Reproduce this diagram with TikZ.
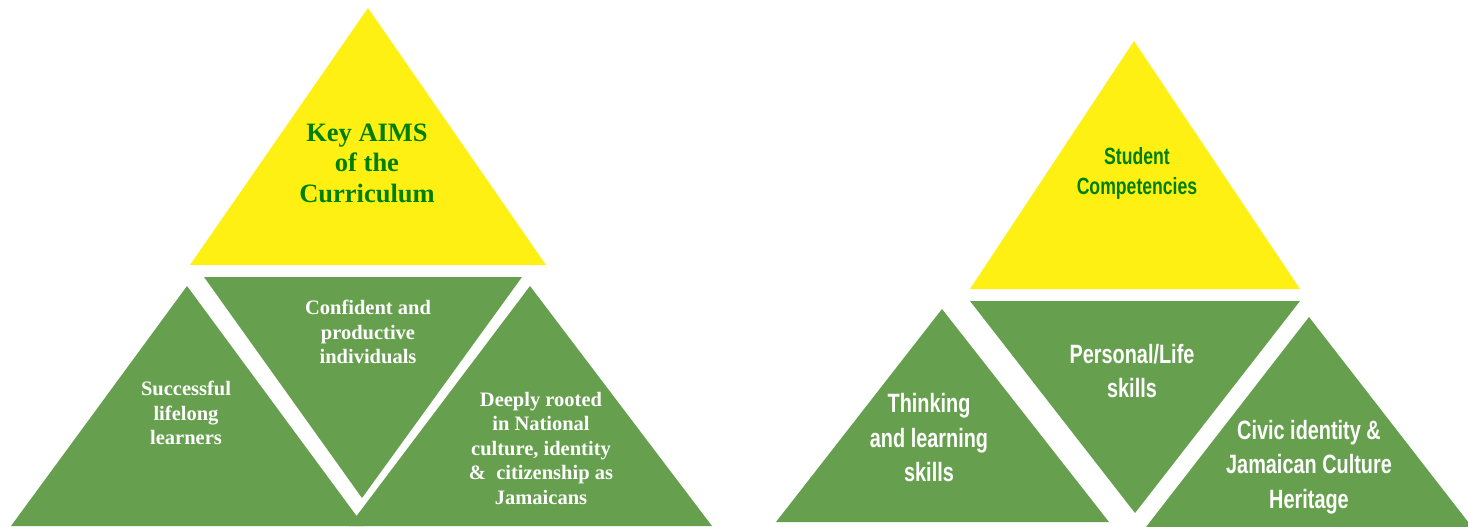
\documentclass[tikz,border=0pt]{standalone}
\usepackage{fontspec}
\setmainfont{Liberation Serif}
\newfontfamily\narrowsans[FakeStretch=0.75]{Liberation Sans}
\usepackage{tikz}

\definecolor{aimyellow}{RGB}{255,240,20}
\definecolor{aimgreen}{RGB}{102,160,79}
\definecolor{textgreen}{RGB}{0,128,0}

\tikzset{
  toptext/.style={align=center, text=textgreen, font=\bfseries\fontsize{26.5}{30.5}\selectfont},
  aimtext/.style={align=center, text=white, font=\bfseries\fontsize{20.5}{24.5}\selectfont},
  comptop/.style={align=center, text=textgreen, font=\narrowsans\bfseries\fontsize{23.5}{30}\selectfont},
  comptext/.style={align=center, text=white, font=\narrowsans\bfseries\fontsize{26.5}{34.5}\selectfont}
}

\begin{document}
\begin{tikzpicture}[x=1pt, y=-1pt]
  \useasboundingbox (0,0) rectangle (1468,527);

  % key aims of the curriculum
  \fill[aimyellow] (368,8) -- (190,265) -- (546,265) -- cycle;
  \fill[aimgreen] (204,277) -- (522,277) -- (362,498) -- cycle;
  \fill[aimgreen] (187,286) -- (11,526) -- (364,526) -- cycle;
  \fill[aimgreen] (530,286) -- (349,526) -- (712,526) -- cycle;

  \node[toptext] (aims) at (367,163) {Key AIMS\\of the\\Curriculum};
  \node[aimtext] (confident) at (368,332) {Confident and\\productive\\individuals};
  \node[aimtext] (lifelong) at (186,413) {Successful\\lifelong\\learners};
  \node[aimtext] (rooted) at (541,448) {Deeply rooted\\in National\\culture, identity\\\&~ citizenship as\\Jamaicans};

  % student competencies
  \fill[aimyellow] (1134,41) -- (970,289) -- (1300,289) -- cycle;
  \fill[aimgreen] (970,301) -- (1300,301) -- (1135,513) -- cycle;
  \fill[aimgreen] (942,309) -- (776,522) -- (1109,522) -- cycle;
  \fill[aimgreen] (1309,317) -- (1146,527) -- (1472,527) -- cycle;

  \node[comptop] (student) at (1137,173) {Student\\Competencies};
  \node[comptext] (personal) at (1132,371) {Personal/Life\\skills};
  \node[comptext] (thinking) at (929,438) {Thinking\\and learning\\skills};
  \node[comptext] (civic) at (1309,467) {Civic identity \&\\Jamaican Culture\\Heritage};
\end{tikzpicture}
\end{document}
